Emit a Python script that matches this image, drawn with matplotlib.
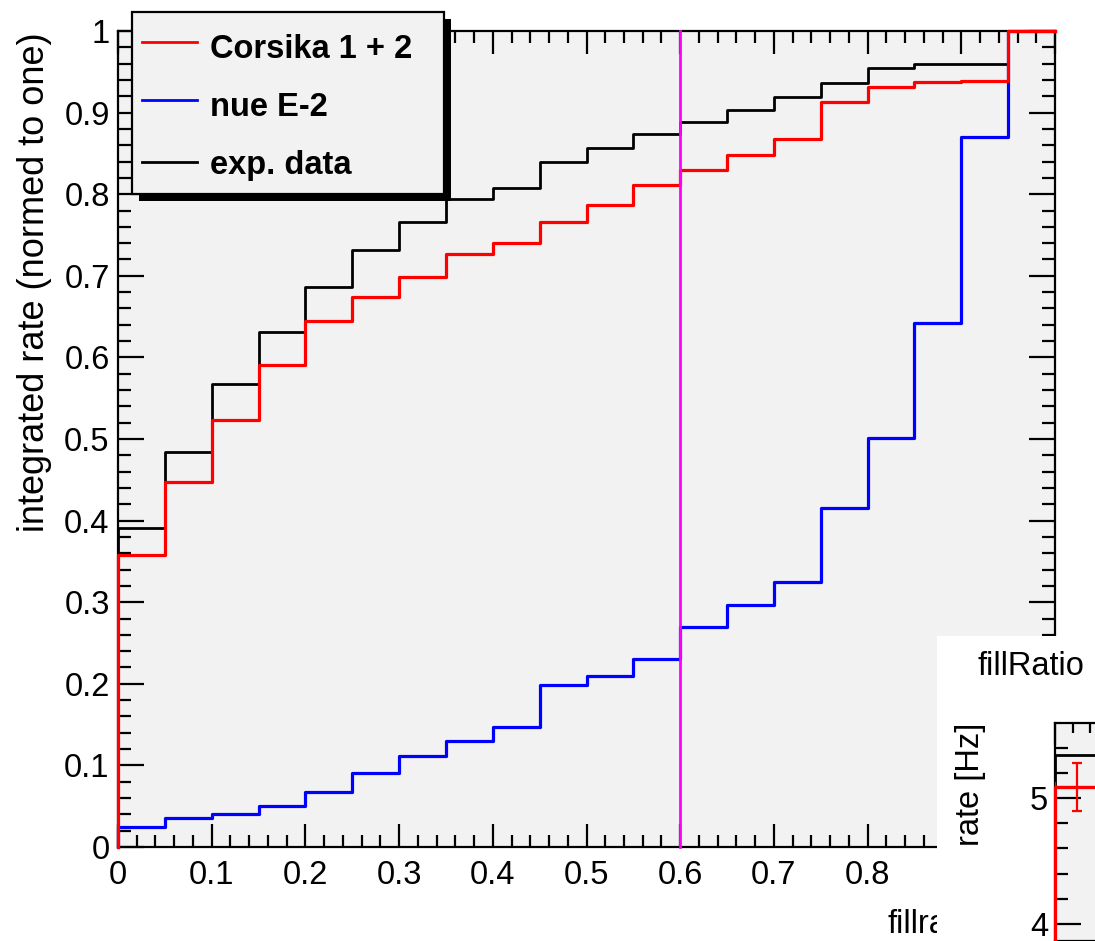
import numpy as np
import matplotlib
matplotlib.use("Agg")
import matplotlib.pyplot as plt
from matplotlib.patches import Rectangle
from matplotlib.lines import Line2D
from matplotlib.ticker import MultipleLocator, FixedLocator

plt.rcParams['font.family'] = ['Liberation Sans', 'DejaVu Sans']

# ---- cumulative rate histograms (20 bins of fill ratio) ----
bin_edges = np.round(np.arange(0.0, 1.0001, 0.05), 2)

corsika = [0.358, 0.447, 0.523, 0.591, 0.645, 0.674, 0.699, 0.727, 0.740, 0.766,
           0.787, 0.811, 0.830, 0.848, 0.868, 0.913, 0.931, 0.937, 0.939, 1.000]
nue_e2 = [0.024, 0.036, 0.041, 0.050, 0.067, 0.091, 0.111, 0.130, 0.147, 0.199,
          0.210, 0.230, 0.269, 0.296, 0.325, 0.415, 0.501, 0.642, 0.870, 1.000]
exp_data = [0.391, 0.484, 0.567, 0.631, 0.686, 0.732, 0.766, 0.794, 0.808, 0.839,
            0.857, 0.874, 0.889, 0.903, 0.919, 0.936, 0.955, 0.960, 0.960, 1.000]

series_names = ["Corsika 1 + 2", "nue E-2", "exp. data"]
series_colors = ["#ff0000", "#0000ff", "#000000"]

cut_value = 0.6

x_ticks = [0.0, 0.1, 0.2, 0.3, 0.4, 0.5, 0.6, 0.7, 0.8, 0.9, 1.0]
x_tick_labels = ["0", "0.1", "0.2", "0.3", "0.4", "0.5", "0.6", "0.7", "0.8", "0.9", "1"]
y_ticks = [0.0, 0.1, 0.2, 0.3, 0.4, 0.5, 0.6, 0.7, 0.8, 0.9, 1.0]
y_tick_labels = ["0", "0.1", "0.2", "0.3", "0.4", "0.5", "0.6", "0.7", "0.8", "0.9", "1"]

# ---- small rate panel (first bin only) ----
inset_edges = [0.0, 0.05]
inset_data_rate = [5.34]
inset_mc_rate = [5.09]
inset_mc_err = [0.19]
inset_y_ticks = [4, 5]
inset_y_tick_labels = ["4", "5"]

W, H = 1095, 941
FS = 23.5


def fx(px):
    return px / W


def fy(py):
    return 1 - py / H


def step_xy(edges, values):
    x = np.r_[edges[0], edges]
    y = np.r_[0.0, values, values[-1]]
    return x, y


fig = plt.figure(figsize=(W / 100, H / 100), dpi=100)
fig.patch.set_facecolor("white")

ax = fig.add_axes([fx(118), fy(847), fx(1055) - fx(118), fy(31) - fy(847)])
ax.set_facecolor("#f2f2f2")

for vals, col, lw in [(nue_e2, series_colors[1], 2.3),
                      (exp_data, series_colors[2], 2.0),
                      (corsika, series_colors[0], 2.3)]:
    xs, ys = step_xy(bin_edges, vals)
    ax.step(xs, ys, where="post", color=col, lw=lw, zorder=3, clip_on=False)

ax.plot([cut_value, cut_value], [0, 1], color="#ff00ff", lw=2.0, zorder=4, clip_on=False)

ax.set_xlim(0, 1)
ax.set_ylim(0, 1)
ax.xaxis.set_major_locator(FixedLocator(x_ticks))
ax.set_xticklabels(x_tick_labels, fontsize=FS)
ax.yaxis.set_major_locator(FixedLocator(y_ticks))
ax.set_yticklabels(y_tick_labels, fontsize=FS)
ax.xaxis.set_minor_locator(MultipleLocator(0.02))
ax.yaxis.set_minor_locator(MultipleLocator(0.02))
ax.tick_params(axis="x", which="major", direction="in", length=16.5, width=1.6,
               top=True, bottom=True, pad=9)
ax.tick_params(axis="x", which="minor", direction="in", length=8.6, width=1.6,
               top=True, bottom=True)
ax.tick_params(axis="y", which="major", direction="in", length=19, width=1.6,
               left=True, right=True, pad=6)
ax.tick_params(axis="y", which="minor", direction="in", length=9.4, width=1.6,
               left=True, right=True)
for sp in ax.spines.values():
    sp.set_linewidth(1.6)

# x-axis title, sits under the rate panel on the right
ax.text(fx(888), fy(933), "fillratio", transform=fig.transFigure, ha="left",
        va="baseline", fontsize=FS, clip_on=False)

fig.text(fx(35), fy(32), "integrated rate (normed to one)", rotation=90,
         ha="center", va="top", fontsize=26)

# ---- legend with drop shadow ----
lx0, ly0, lx1, ly1 = 132, 12, 444, 194
fig.add_artist(Rectangle((fx(lx0 + 7), fy(ly1 + 7)), fx(lx1 - lx0), fy(ly0) - fy(ly1),
                         transform=fig.transFigure, facecolor="black", edgecolor="none",
                         zorder=3))
fig.add_artist(Rectangle((fx(lx0), fy(ly1)), fx(lx1 - lx0), fy(ly0) - fy(ly1),
                         transform=fig.transFigure, facecolor="#f2f2f2", edgecolor="black",
                         lw=1.6, zorder=4))
for name, col, ly, base in zip(series_names, series_colors, [42, 100, 162], [58, 116, 174]):
    fig.add_artist(Line2D([fx(142), fx(197)], [fy(ly), fy(ly)], transform=fig.transFigure,
                          color=col, lw=2.0, zorder=5))
    fig.text(fx(210), fy(base), name, ha="left", va="baseline", fontsize=FS,
             fontweight="bold", zorder=5)

# ---- rate panel in the lower right corner ----
fig.add_artist(Rectangle((fx(937), 0), 1 - fx(937), fy(636), transform=fig.transFigure,
                         facecolor="white", edgecolor="none", zorder=1))

inax = fig.add_axes([fx(1055), 0, 880 / W, fy(723)], zorder=2)
inax.set_facecolor("#f2f2f2")
xs, ys = step_xy(inset_edges, inset_data_rate)
inax.step(xs, ys, where="post", color="black", lw=2.0, zorder=3, clip_on=False)
xs, ys = step_xy(inset_edges, inset_mc_rate)
inax.step(xs, ys, where="post", color="red", lw=2.3, zorder=3, clip_on=False)
centers = [(a + b) / 2 for a, b in zip(inset_edges[:-1], inset_edges[1:])]
half_w = [(b - a) / 2 for a, b in zip(inset_edges[:-1], inset_edges[1:])]
inax.errorbar(centers, inset_mc_rate, xerr=half_w, yerr=inset_mc_err, fmt="none",
              ecolor="red", elinewidth=1.6, capsize=3.5, capthick=1.6, zorder=4)
inax.set_xlim(0, 1)
inax.set_ylim(3.865, 5.595)
inax.yaxis.set_major_locator(FixedLocator(inset_y_ticks))
inax.set_yticklabels(inset_y_tick_labels, fontsize=FS)
inax.yaxis.set_minor_locator(MultipleLocator(0.2))
inax.xaxis.tick_top()
inax.xaxis.set_major_locator(MultipleLocator(0.1))
inax.xaxis.set_minor_locator(MultipleLocator(0.02))
inax.tick_params(axis="x", which="both", labeltop=False, labelbottom=False,
                 direction="in", width=1.6)
inax.tick_params(axis="x", which="minor", length=7)
inax.tick_params(axis="x", which="major", length=16)
inax.tick_params(axis="y", which="major", direction="in", length=19, width=1.6, pad=5)
inax.tick_params(axis="y", which="minor", direction="in", length=9.4, width=1.6)
for sp in inax.spines.values():
    sp.set_linewidth(1.6)

fig.text(fx(978), fy(675), "fillRatio", ha="left", va="baseline", fontsize=FS, zorder=5)
fig.text(fx(971), fy(723), "rate [Hz]", rotation=90, ha="center", va="top",
         fontsize=FS, zorder=5)

fig.savefig("out.png", dpi=100, facecolor="white")
